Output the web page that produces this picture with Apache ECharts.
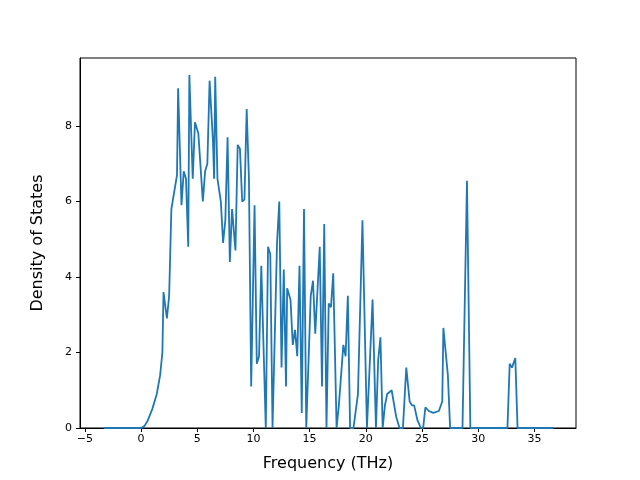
<!DOCTYPE html><html><head><script src="https://cdn.jsdelivr.net/npm/echarts@6/dist/echarts.min.js"></script></head><body style="margin:0"><div id="c" style="width:640px;height:480px"></div><script>
const freq=[-3.3,0,0.3,0.6,1,1.4,1.7,1.9,2.0,2.3,2.5,2.7,3.2,3.3,3.6,3.8,4.0,4.2,4.3,4.6,4.8,5.1,5.5,5.7,5.9,6.1,6.4,6.5,6.6,6.8,7.1,7.3,7.5,7.7,7.9,8.1,8.4,8.6,8.8,9.0,9.2,9.4,9.6,9.8,10.1,10.3,10.5,10.7,11.1,11.3,11.5,11.7,12.1,12.3,12.5,12.7,12.9,13.0,13.3,13.5,13.7,13.9,14.1,14.3,14.5,14.7,15.1,15.3,15.5,15.9,16.1,16.3,16.5,16.7,16.9,17.1,17.4,17.6,18.0,18.2,18.4,18.6,18.9,19.3,19.7,20.1,20.6,20.9,21.1,21.3,21.5,21.7,21.9,22.3,22.7,23.0,23.3,23.6,23.9,24.1,24.3,24.6,24.9,25.1,25.3,25.6,26.0,26.5,26.8,26.9,27.3,27.5,28.6,29.0,29.3,32.6,32.8,33.0,33.3,33.5,36.7];
const dos=[0,0,0.05,0.2,0.5,0.9,1.4,2.0,3.6,2.9,3.5,5.8,6.7,9.0,5.9,6.8,6.6,4.8,9.35,6.6,8.1,7.8,6.0,6.8,7.0,9.2,7.6,6.6,9.3,6.6,6.0,4.9,5.5,7.7,4.4,5.8,4.7,7.5,7.4,6.0,6.05,8.45,6.6,1.1,5.9,1.7,1.9,4.3,0,4.8,4.6,0,4.9,6.0,1.6,4.2,1.1,3.7,3.4,2.2,2.6,1.9,4.3,0.4,5.8,0,3.5,3.9,2.5,4.8,1.1,5.4,0,3.3,3.2,4.1,0,0.6,2.2,1.9,3.5,0,0,0.9,5.5,0,3.4,0,1.8,2.4,0,0.6,0.9,1.0,0.3,0,0,1.6,0.7,0.6,0.6,0.2,0,0,0.55,0.45,0.4,0.45,0.7,2.65,1.4,0,0,6.55,0,0,1.7,1.6,1.85,0,0];
const xTicks=[-5,0,5,10,15,20,25,30,35];
const yTicks=[0,2,4,6,8];
const c=echarts.init(document.getElementById('c'));
const line={show:true,onZero:false,lineStyle:{color:'#000',width:1}};
const lbl={color:'#000',fontSize:11,fontFamily:'DejaVu Sans'};
const nm={color:'#000',fontSize:16,fontFamily:'DejaVu Sans'};
c.setOption({animation:false,
grid:{left:80,right:64,top:58,bottom:52,show:true,borderColor:'#000',borderWidth:1},
xAxis:{type:'value',min:-5.43,max:38.7,name:'Frequency (THz)',nameLocation:'middle',nameGap:28,nameTextStyle:nm,axisLine:line,
 axisTick:{show:true,length:4,customValues:xTicks,lineStyle:{color:'#000'}},
 axisLabel:Object.assign({customValues:xTicks,formatter:v=>String(v).replace('-','−'),margin:6},lbl),splitLine:{show:false}},
yAxis:{type:'value',min:0,max:9.8,name:'Density of States',nameLocation:'middle',nameGap:34,nameTextStyle:nm,axisLine:line,
 axisTick:{show:true,length:4,customValues:yTicks,lineStyle:{color:'#000'}},
 axisLabel:Object.assign({customValues:yTicks,margin:8},lbl),splitLine:{show:false}},
series:[{type:'line',data:freq.map((f,i)=>[f,dos[i]]),showSymbol:false,lineStyle:{color:'#1f77b4',width:1.8}}]});
</script></body></html>
